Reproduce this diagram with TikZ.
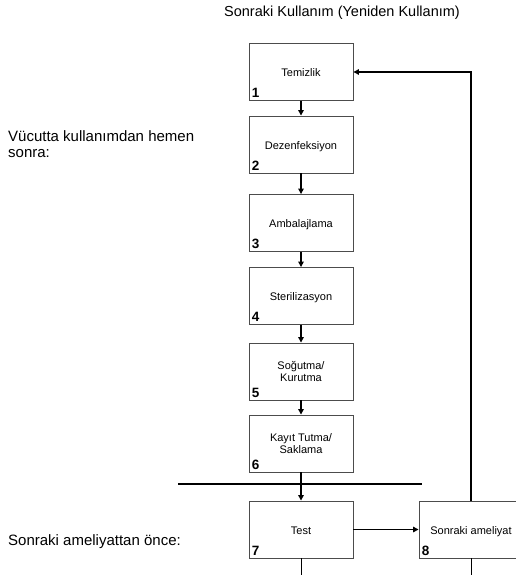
\documentclass[tikz,border=0pt]{standalone}
\usepackage{fontspec}
\setmainfont{Liberation Sans}
\usetikzlibrary{arrows.meta}
\begin{document}
\begin{tikzpicture}[x=1pt,y=-1pt,
  stepbox/.style={draw=black!70,line width=0.9pt,minimum width=104pt,minimum height=57pt,inner sep=0pt,align=center,font=\fontsize{11}{12.5}\selectfont,text depth=0pt},
  numlab/.style={anchor=base west,inner sep=0pt,font=\fontsize{13.5}{13.5}\selectfont\bfseries},
  arr/.style={line width=1.3pt,-{Triangle[length=5.5pt,width=5.5pt]}},
  plain/.style={line width=1pt},
  lbl/.style={inner sep=0pt,align=left,font=\fontsize{14.5}{16}\selectfont},
  sidelbl/.style={inner sep=0pt,align=left,font=\fontsize{15}{16}\selectfont}]
\useasboundingbox[fill=white] (0,0) rectangle (516,575);
\clip (0,0) rectangle (516,575);
\node[lbl,anchor=center] (title) at (342,13) {Sonraki Kullanım (Yeniden Kullanım)};
\node[sidelbl,anchor=north west] (lab1) at (8,130) {Vücutta kullanımdan hemen\\sonra:};
\node[sidelbl,anchor=west] (lab2) at (8,542) {Sonraki ameliyattan önce:};
\node[stepbox] (b1) at (301,72) {\raisebox{-2pt}{Temizlik}};
\node[stepbox] (b2) at (301,144.5) {\raisebox{-2pt}{Dezenfeksiyon}};
\node[stepbox] (b3) at (301,223) {\raisebox{-2pt}{Ambalajlama}};
\node[stepbox] (b4) at (301,296) {\raisebox{-2pt}{Sterilizasyon}};
\node[stepbox] (b5) at (301,371.5) {Soğutma/\\Kurutma};
\node[stepbox] (b6) at (301,443.5) {Kayıt Tutma/\\Saklama};
\node[stepbox] (b7) at (301,529.5) {\raisebox{-2pt}{Test}};
\node[stepbox] (b8) at (471,529.5) {\raisebox{-2pt}{Sonraki ameliyat}};
\foreach \i in {1,...,8}{
  \node[numlab] (n\i) at ([xshift=3pt,yshift=3pt]b\i.south west) {\i};
}
\draw[arr] (b1) -- (b2);
\draw[arr] (b2) -- (b3);
\draw[arr] (b3) -- (b4);
\draw[arr] (b4) -- (b5);
\draw[arr] (b5) -- (b6);
\draw[arr] (b6) -- (b7);
\draw[arr] (b7) -- (b8);
\draw[arr] (b8.north) |- (b1.east);
\coordinate (hl) at (178,484);
\coordinate (hr) at (422,484);
\draw[line width=1.5pt] (hl) -- (hr);
\coordinate (e7) at (b7.south |- 0,580);
\coordinate (e8) at (b8.south |- 0,580);
\draw[plain] (b7.south) -- (e7);
\draw[plain] (b8.south) -- (e8);
\end{tikzpicture}
\end{document}
